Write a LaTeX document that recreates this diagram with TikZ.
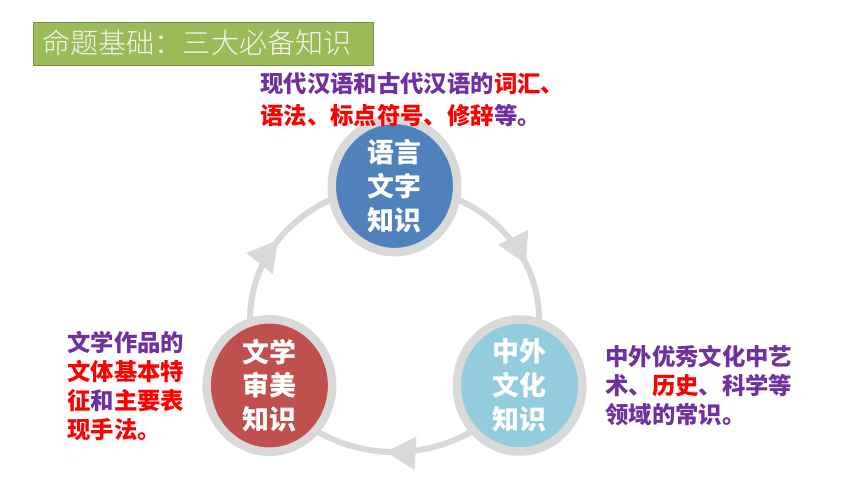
\documentclass[tikz,border=0pt]{standalone}
\usepackage{fontspec}
\newfontfamily\cjk{Noto Sans CJK SC}
\newfontfamily\cjklight{Noto Sans CJK SC Light}
\usetikzlibrary{arrows.meta,decorations.markings,backgrounds,shapes.geometric}
\definecolor{ringgray}{RGB}{217,217,217}
\definecolor{titlegreen}{RGB}{155,187,89}
\definecolor{titleedge}{RGB}{118,146,60}
\definecolor{langblue}{RGB}{79,129,189}
\definecolor{artred}{RGB}{192,80,77}
\definecolor{cultureblue}{RGB}{147,205,221}
\definecolor{notepurple}{RGB}{112,48,160}
\definecolor{notered}{RGB}{255,0,0}

\begin{document}
\begin{tikzpicture}[x=0.02cm, y=0.02cm]
            \tikzstyle{topic} = [shape=ellipse, draw=ringgray, line width=0.17cm, minimum width=2.51cm,
                minimum height=2.29cm, inner sep=0, align=center, text=white,
                font=\cjk\bfseries\fontsize{15.3}{19.3}\selectfont]
            \tikzstyle{note} = [anchor=west, inner sep=0, align=left, text=notepurple,
                font=\cjk\bfseries\fontsize{13.3}{16.5}\selectfont]
            \tikzstyle{ring} = [ringgray, line width=0.12cm, postaction={decorate},
                decoration={markings, mark=at position #1 with {\arrow{Triangle[length=0.6cm, width=0.64cm]}}}]
            \useasboundingbox (0, 0) rectangle (860, 484);
            \node[draw=titleedge, fill=titlegreen, line width=0.8pt, minimum width=6.8cm, minimum height=0.86cm,
                anchor=north west, inner sep=0] (title) at (33, 462) {};
            \node[anchor=west, inner sep=0, text={rgb,255:red,245;green,245;blue,238},
                font=\cjklight\fontsize{16}{16}\selectfont] (titletext) at (42, 441.5) {命题基础：三大必备知识};
            \node[topic, fill=langblue] (lang) at (394.5, 298) {语言\\文字\\知识};
            \node[topic, fill=cultureblue] (culture) at (519.6, 98.5) {中外\\文化\\知识};
            \node[topic, fill=artred] (art) at (269.4, 98.5) {文学\\审美\\知识};
            \node[note, font=\cjk\bfseries\fontsize{13.3}{18.1}\selectfont] (langnote) at (260, 384)
                {现代汉语和古代汉语的\textcolor{notered}{词汇、}\\
                \textcolor{notered}{语法、标点符号、修辞}等。};
            \node[note] (culturenote) at (605, 98)
                {中外优秀文化中艺\\术、\textcolor{notered}{历史}、科学等\\领域的常识。};
            \node[note, text=notered] (artnote) at (67, 98)
                {\textcolor{notepurple}{文学作品的}\\文体基本特\\征\textcolor{notepurple}{和}主要表\\现手法。};
            \begin{scope}[on background layer]
                \draw[ring=0.56] (lang.center) arc[start angle=90, end angle=-30, x radius=2.89cm, y radius=2.66cm];
                \draw[ring=0.53] (culture.center) arc[start angle=-30, end angle=-150, x radius=2.89cm, y radius=2.66cm];
                \draw[ring=0.54] (art.center) arc[start angle=210, end angle=90, x radius=2.89cm, y radius=2.66cm];
            \end{scope}
        \end{tikzpicture}
\end{document}
